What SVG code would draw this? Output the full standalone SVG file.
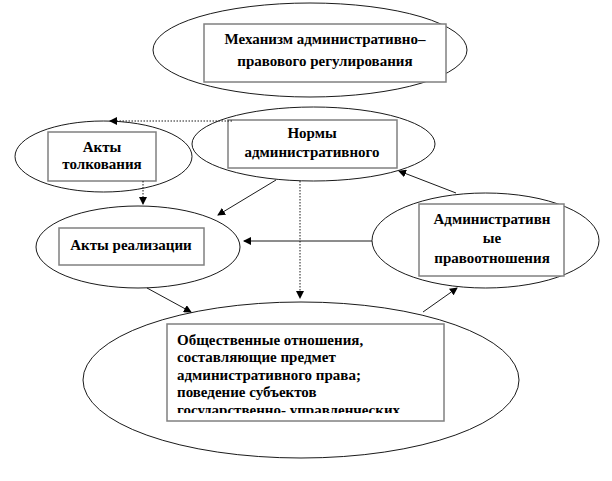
<svg xmlns="http://www.w3.org/2000/svg" width="612" height="481" viewBox="0 0 612 481">
<defs>
<marker id="ah" markerWidth="8" markerHeight="8" refX="7" refY="4" orient="auto" markerUnits="userSpaceOnUse">
<path d="M0,0 L8,4 L0,8 Z" fill="#000"/>
</marker>
<clipPath id="clipSoc"><rect x="160" y="320" width="290" height="93"/></clipPath>
</defs>
<rect width="612" height="481" fill="#fff"/>
<g id="mechanism">
<ellipse cx="310" cy="50" rx="157" ry="47" fill="none" stroke="#000" stroke-width="0.9"/>
<rect x="204" y="24" width="242" height="58" fill="#fff" stroke="#808080" stroke-width="1.5"/>
<text x="325" y="44" font-family="Liberation Serif" font-size="15" font-weight="bold" text-anchor="middle">Механизм административно–</text>
<text x="325" y="66" font-family="Liberation Serif" font-size="15" font-weight="bold" text-anchor="middle">правового регулирования</text>
</g>
<g id="tolkovanie">
<ellipse cx="103.5" cy="156.5" rx="88.5" ry="35.5" fill="none" stroke="#000" stroke-width="0.9"/>
<rect x="48" y="132" width="108" height="49" fill="#fff" stroke="#808080" stroke-width="1.5"/>
<text x="102" y="152" font-family="Liberation Serif" font-size="15" font-weight="bold" text-anchor="middle">Акты</text>
<text x="102" y="169" font-family="Liberation Serif" font-size="15" font-weight="bold" text-anchor="middle">толкования</text>
</g>
<g id="normy">
<ellipse cx="313.5" cy="144" rx="121.5" ry="37" fill="none" stroke="#000" stroke-width="0.9"/>
<rect x="228" y="120" width="169" height="48" fill="#fff" stroke="#808080" stroke-width="1.5"/>
<text x="312" y="138" font-family="Liberation Serif" font-size="15" font-weight="bold" text-anchor="middle">Нормы</text>
<text x="312" y="157" font-family="Liberation Serif" font-size="15" font-weight="bold" text-anchor="middle">административного</text>
</g>
<g id="realizacia">
<ellipse cx="138" cy="247" rx="102" ry="41" fill="none" stroke="#000" stroke-width="0.9"/>
<rect x="59" y="228" width="145" height="37" fill="#fff" stroke="#808080" stroke-width="1.5"/>
<text x="131" y="250" font-family="Liberation Serif" font-size="15" font-weight="bold" text-anchor="middle">Акты реализации</text>
</g>
<g id="pravootnoshenia">
<ellipse cx="485.5" cy="240.5" rx="113.5" ry="47.5" fill="none" stroke="#000" stroke-width="0.9"/>
<rect x="419" y="204" width="145" height="72" fill="#fff" stroke="#808080" stroke-width="1.5"/>
<text x="492" y="224" font-family="Liberation Serif" font-size="15" font-weight="bold" text-anchor="middle">Административн</text>
<text x="492" y="243" font-family="Liberation Serif" font-size="15" font-weight="bold" text-anchor="middle">ые</text>
<text x="492" y="263" font-family="Liberation Serif" font-size="15" font-weight="bold" text-anchor="middle">правоотношения</text>
</g>
<g id="obshestvennye">
<ellipse cx="301" cy="380" rx="218" ry="78" fill="none" stroke="#000" stroke-width="0.9"/>
<rect x="167" y="324" width="277" height="97" fill="#fff" stroke="#808080" stroke-width="1.5"/>
<g clip-path="url(#clipSoc)">
<text x="177" y="345" font-family="Liberation Serif" font-size="15" font-weight="bold">Общественные отношения,</text>
<text x="177" y="362" font-family="Liberation Serif" font-size="15" font-weight="bold">составляющие предмет</text>
<text x="177" y="380" font-family="Liberation Serif" font-size="15" font-weight="bold">административного права;</text>
<text x="177" y="397" font-family="Liberation Serif" font-size="15" font-weight="bold">поведение субъектов</text>
<text x="177" y="415" font-family="Liberation Serif" font-size="15" font-weight="bold">государственно- управленческих</text>
</g>
</g>
<g id="connectors" stroke="#000" stroke-width="0.9" fill="none">
<line x1="232" y1="121" x2="110" y2="121" stroke-dasharray="1.5,1.5" marker-end="url(#ah)"/>
<line x1="143" y1="181" x2="143" y2="204" stroke-dasharray="1.5,1.5" marker-end="url(#ah)"/>
<line x1="276" y1="180" x2="218" y2="215" marker-end="url(#ah)"/>
<line x1="300" y1="181" x2="300" y2="298" stroke-dasharray="1.5,1.5" marker-end="url(#ah)"/>
<line x1="372" y1="241" x2="244" y2="241" marker-end="url(#ah)"/>
<line x1="456" y1="193" x2="399" y2="171" marker-end="url(#ah)"/>
<line x1="423" y1="312" x2="457" y2="288" marker-end="url(#ah)"/>
<line x1="147" y1="288" x2="191" y2="312" marker-end="url(#ah)"/>
</g>
</svg>
